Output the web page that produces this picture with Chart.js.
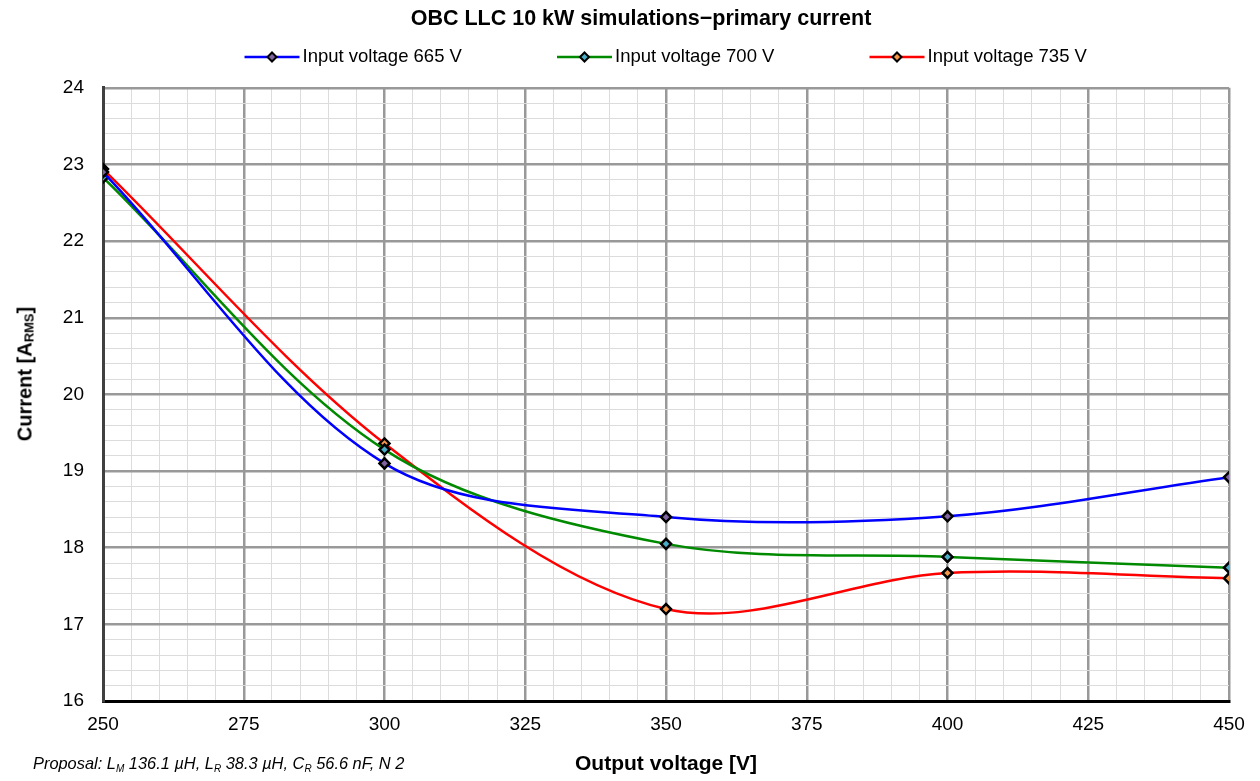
<!DOCTYPE html>
<html lang="en">
<head>
    <meta charset="UTF-8">
    <title>OBC LLC 10 kW simulations - primary current</title>
    <script src="https://cdn.jsdelivr.net/npm/chart.js"></script>
    <style>
        body {
            margin: 0;
            padding: 0;
            background: #ffffff;
            font-family: "Liberation Sans", Arial, sans-serif;
        }
        .wrap {
            position: relative;
            width: 1260px;
            height: 781px;
        }
        #currentChart {
            position: absolute;
            left: 0;
            top: 0;
        }
        .ytitle {
            position: absolute;
            left: 25px;
            top: 374px;
            transform: translate(-50%, -50%) rotate(-90deg);
            font-weight: bold;
            font-size: 20px;
            white-space: nowrap;
            color: #000;
        }
        .ytitle sub {
            font-size: 13px;
            vertical-align: -2px;
        }
        .note {
            position: absolute;
            left: 33px;
            top: 754px;
            font-style: italic;
            font-size: 16.4px;
            white-space: nowrap;
            color: #000;
        }
        .note sub {
            font-size: 10px;
            vertical-align: -3px;
        }
    </style>
</head>
<body>
<div class="wrap">
    <canvas id="currentChart" width="1260" height="781"></canvas>
    <div class="ytitle">Current [A<sub>RMS</sub>]</div>
    <div class="note">Proposal: L<sub>M</sub> 136.1 µH, L<sub>R</sub> 38.3 µH, C<sub>R</sub> 56.6 nF, N 2</div>
</div>
<script>
    // output voltage [V]
    const outputVoltage = [250, 300, 350, 400, 450];
    // primary current [A rms]
    const current665 = [22.90, 19.10, 18.40, 18.41, 18.92];
    const current700 = [22.83, 19.28, 18.05, 17.88, 17.74];
    const current735 = [22.94, 19.36, 17.20, 17.67, 17.60];
    const seriesNames = ['Input voltage 665 V', 'Input voltage 700 V', 'Input voltage 735 V'];
    const xTicks = [250, 275, 300, 325, 350, 375, 400, 425, 450];
    const yTicks = [16, 17, 18, 19, 20, 21, 22, 23, 24];

    const lineColors = ['#0000ff', '#008a00', '#ff0000'];
    const markerFills = ['#8064a2', '#4bacc6', '#f79646'];

    function toPoints(ys) {
        return outputVoltage.map((x, i) => ({ x: x, y: ys[i] }));
    }

    function isMajorX(v) {
        return xTicks.some(t => Math.abs(t - v) < 1e-6);
    }
    function isMajorY(v) {
        return yTicks.some(t => Math.abs(t - v) < 1e-6);
    }

    const makeSet = (label, data, i) => ({
        label: label,
        data: toPoints(data),
        borderColor: lineColors[i],
        backgroundColor: lineColors[i],
        borderWidth: 2.5,
        tension: 0.33,
        pointStyle: 'rectRot',
        pointRadius: 5,
        pointHoverRadius: 5,
        pointBorderWidth: 2.5,
        pointBorderColor: '#000000',
        pointBackgroundColor: markerFills[i]
    });

    // legend drawn as line + diamond marker, spaced like the original
    const lineLegend = {
        id: 'lineLegend',
        afterDraw(chart) {
            const ctx = chart.ctx;
            const area = chart.chartArea;
            const cx = (area.left + area.right) / 2;
            const slot = 312.5;
            const y = 57;
            ctx.save();
            ctx.font = '18.5px "Liberation Sans", Arial, sans-serif';
            ctx.textBaseline = 'middle';
            ctx.fillStyle = '#000';
            chart.data.datasets.forEach((ds, i) => {
                const x0 = cx + (i - 1) * slot - 109;
                ctx.strokeStyle = ds.borderColor;
                ctx.lineWidth = 2.5;
                ctx.beginPath();
                ctx.moveTo(x0, y);
                ctx.lineTo(x0 + 55, y);
                ctx.stroke();
                const mx = x0 + 27.5;
                ctx.beginPath();
                ctx.moveTo(mx, y - 4.5);
                ctx.lineTo(mx + 4.5, y);
                ctx.lineTo(mx, y + 4.5);
                ctx.lineTo(mx - 4.5, y);
                ctx.closePath();
                ctx.fillStyle = ds.pointBackgroundColor;
                ctx.fill();
                ctx.strokeStyle = '#000';
                ctx.lineWidth = 2;
                ctx.stroke();
                ctx.fillStyle = '#000';
                ctx.fillText(ds.label, x0 + 58, y);
            });
            ctx.restore();
        }
    };

    const ctx = document.getElementById('currentChart').getContext('2d');
    new Chart(ctx, {
        type: 'line',
        data: {
            datasets: [
                makeSet(seriesNames[0], current665, 0),
                makeSet(seriesNames[1], current700, 1),
                makeSet(seriesNames[2], current735, 2)
            ]
        },
        options: {
            responsive: false,
            animation: false,
            events: [],
            layout: { padding: { left: 22, right: 0, top: 0, bottom: 0 } },
            plugins: {
                legend: { display: false },
                tooltip: { enabled: false },
                title: {
                    display: true,
                    text: 'OBC LLC 10 kW simulations\u2212primary current',
                    color: '#000',
                    font: { family: '"Liberation Sans", Arial, sans-serif', size: 21.5, weight: 'bold' },
                    padding: { top: 6, bottom: 56 }
                }
            },
            scales: {
                x: {
                    type: 'linear',
                    min: 250,
                    max: 450,
                    border: { color: '#000000', width: 3 },
                    grid: {
                        drawTicks: false,
                        color: c => isMajorX(c.tick.value) ? '#999999' : '#dcdcdc',
                        lineWidth: c => isMajorX(c.tick.value) ? 2.5 : 1
                    },
                    ticks: {
                        stepSize: 5,
                        autoSkip: false,
                        maxRotation: 0,
                        padding: 12,
                        color: '#000',
                        font: { family: '"Liberation Sans", Arial, sans-serif', size: 19 },
                        callback: v => isMajorX(v) ? String(Math.round(v)) : ''
                    },
                    title: {
                        display: true,
                        text: 'Output voltage [V]',
                        color: '#000',
                        font: { family: '"Liberation Sans", Arial, sans-serif', size: 21, weight: 'bold' },
                        padding: { top: 4, bottom: 4 }
                    },
                    afterFit: s => { s.height = 80; s.paddingRight = 31; }
                },
                y: {
                    type: 'linear',
                    min: 16,
                    max: 24,
                    border: { color: '#404040', width: 3 },
                    grid: {
                        drawTicks: false,
                        color: c => isMajorY(c.tick.value) ? '#999999' : '#dcdcdc',
                        lineWidth: c => isMajorY(c.tick.value) ? 2.5 : 1
                    },
                    ticks: {
                        stepSize: 0.2,
                        autoSkip: false,
                        padding: 19,
                        color: '#000',
                        font: { family: '"Liberation Sans", Arial, sans-serif', size: 19 },
                        callback: v => isMajorY(v) ? String(Math.round(v)) : ''
                    },
                    afterFit: s => { s.width = 81; }
                }
            }
        },
        plugins: [lineLegend]
    });
</script>
</body>
</html>
